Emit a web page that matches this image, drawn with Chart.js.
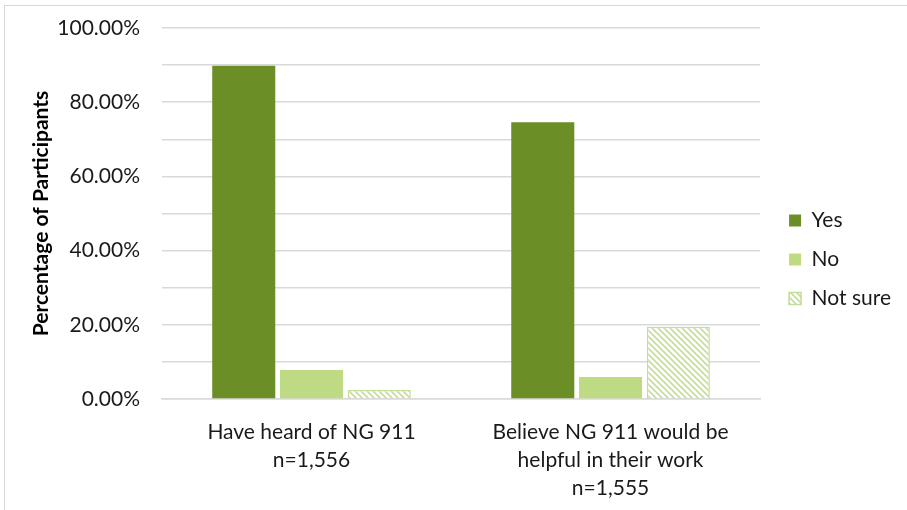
<!DOCTYPE html>
<html>
<head>
<meta charset="utf-8">
<script src="https://cdn.jsdelivr.net/npm/chart.js@4/dist/chart.umd.min.js"></script>
<style>
  html, body { margin: 0; padding: 0; background: #fff; }
  #wrap { position: relative; width: 907px; height: 510px; overflow: hidden; }
  #frame { position: absolute; left: 4px; top: 5px; width: 910px; height: 520px; border: 1px solid #d9d9d9; box-sizing: border-box; pointer-events: none; }
  canvas { position: absolute; left: 0; top: 0; }
</style>
</head>
<body>
<div id="wrap">
  <canvas id="c" width="907" height="510"></canvas>
  <div id="frame"></div>
</div>
<script>
// Survey questions (x-axis categories, multi-line)
const categories = [
  ["Have heard of NG 911", "n=1,556"],
  ["Believe NG 911 would be", "helpful in their work", "n=1,555"]
];
const seriesNames = ["Yes", "No", "Not sure"];
// Percent of participants per answer
const yesValues = [89.8, 74.6];
const noValues = [7.8, 5.9];
const notSureValues = [2.4, 19.5];
// Labelled y-axis ticks (gridlines every 10)
const yTickLabels = [0, 20, 40, 60, 80, 100];

const FONT = "Lato, 'Open Sans', sans-serif";
const DARK_GREEN = "#6b8e27";
const LIGHT_GREEN = "#bedb84";
const HATCH_GREEN = "#c4dd97";

// Diagonal hatch fill for "Not sure"
function makeHatch() {
  const size = 6;
  const t = document.createElement("canvas");
  t.width = size; t.height = size;
  const g = t.getContext("2d");
  g.fillStyle = "#ffffff";
  g.fillRect(0, 0, size, size);
  g.strokeStyle = HATCH_GREEN;
  g.lineWidth = 1.6;
  g.beginPath();
  g.moveTo(-1, -1); g.lineTo(size + 1, size + 1);
  g.moveTo(-1, size - 1); g.lineTo(1, size + 1);
  g.moveTo(size - 1, -1); g.lineTo(size + 1, 1);
  g.stroke();
  return g.createPattern(t, "repeat");
}

const ctx = document.getElementById("c").getContext("2d");
const hatch = makeHatch();

new Chart(ctx, {
  type: "bar",
  data: {
    labels: categories,
    datasets: [
      { label: seriesNames[0], data: yesValues, backgroundColor: DARK_GREEN, borderColor: DARK_GREEN, borderWidth: 0 },
      { label: seriesNames[1], data: noValues, backgroundColor: LIGHT_GREEN, borderColor: LIGHT_GREEN, borderWidth: 0 },
      { label: seriesNames[2], data: notSureValues, backgroundColor: hatch, borderColor: HATCH_GREEN, borderWidth: 1.5 }
    ]
  },
  options: {
    responsive: false,
    animation: false,
    layout: { padding: { left: 29, right: 6, top: -7, bottom: 0 } },
    datasets: { bar: { categoryPercentage: 0.68, barPercentage: 0.93 } },
    plugins: {
      tooltip: { enabled: false },
      legend: {
        position: "right",
        align: "center",
        // empty title only nudges the legend rows downward
        title: { display: true, text: " ", font: { size: 10, lineHeight: 1 }, padding: 3 },
        labels: {
          font: { family: FONT, size: 21 },
          color: "#1a1a1a",
          boxWidth: 12,
          boxHeight: 12,
          padding: 18
        }
      }
    },
    scales: {
      x: {
        grid: { display: false },
        border: { display: true, color: "#d9d9d9", width: 1.5 },
        afterFit: (s) => { s.height = 111; },
        ticks: {
          font: { family: FONT, size: 21, lineHeight: 1.34 },
          color: "#1a1a1a",
          padding: 11,
          maxRotation: 0
        }
      },
      y: {
        min: 0,
        max: 100,
        afterFit: (s) => { s.width = 133; },
        grid: { color: "#d9d9d9", lineWidth: 1.5, drawTicks: false },
        border: { display: false },
        ticks: {
          stepSize: 10,
          padding: 22,
          font: { family: FONT, size: 21, lineHeight: 0.57 },
          color: "#1a1a1a",
          callback: (v) => yTickLabels.includes(v) ? v.toFixed(2) + "%" : ""
        },
        title: {
          display: true,
          text: "Percentage of Participants",
          font: { family: FONT, size: 21, weight: "bold" },
          color: "#000",
          padding: { top: 0, bottom: 4 }
        }
      },
      // blank spacer between the plot and the legend
      gap: {
        type: "linear",
        position: "right",
        grid: { display: false, drawTicks: false },
        border: { display: false },
        ticks: { display: false },
        afterFit: (s) => { s.width = 11; }
      }
    }
  }
});
</script>
</body>
</html>
